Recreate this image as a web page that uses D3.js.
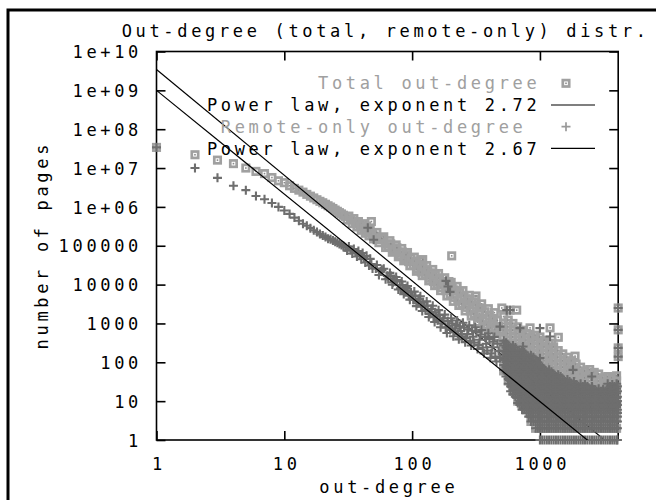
<!DOCTYPE html>
<html>
<head>
<meta charset="utf-8">
<script src="https://d3js.org/d3.v7.min.js"></script>
<style>
  body { margin: 0; background: white; }
  svg text { font-family: "DejaVu Sans Mono", monospace; font-size: 17px; letter-spacing: 3.66px; white-space: pre; }
</style>
</head>
<body>
<div id="chart"></div>
<script>
// ---- data: [out-degree, number of pages] ----
const totalHead = [[1,3.4e7],[2,2.2e7],[3,1.6e7],[4,1.3e7],[5,1.0e7],[6,8.2e6],[7,7.2e6],[8,5.7e6],[9,4.7e6],[10,4.2e6]]
const totalBand = [[11,3.5e6],[12,3.0e6],[13,2.7e6],[14,2.4e6],[15,2.1e6],[16,1.89e6],[17,1.7e6],[18,1.53e6],[19,1.39e6],[20,1.28e6],
  [21,1.17e6],[22,1.07e6],[23,9.9e5],[24,9.1e5],[25,8.3e5],[26,7.7e5],[27,7.1e5],[28,6.6e5],[29,6.1e5],[30,5.7e5],
  [31,4.6e5],[32,5.8e5],[33,4.65e5],[34,3.7e5],[35,5.0e5],[36,3.9e5],[37,3.05e5],[38,4.2e5],[39,3.3e5],[40,2.5e5],
  [41,3.7e5],[42,2.8e5],[43,2.1e5],[44,3.2e5],[45,2.4e5],[46,1.8e5],[47,2.75e5],[48,4.2e5],[49,2.0e5],[50,1.5e5],
  [52,1.77e5],[53,2.2e5],[55,1.2e5],[57,1.44e5],[60,1.7e5],[62,9.0e4],[64,1.11e5],[67,1.35e5],[70,6.8e4],[73,8.3e4],
  [75,1.05e5],[78,5.2e4],[80,6.8e4],[83,8.5e4],[86,4.1e4],[89,5.2e4],[92,6.7e4],[96,3.05e4],[100,3.9e4],[104,5.1e4],
  [108,2.2e4],[112,3.0e4],[116,4.0e4],[120,1.7e4],[125,2.3e4],[130,3.1e4],[135,1.25e4],[140,1.73e4],[145,2.45e4],[150,9.4e3],
  [155,1.34e4],[161,1.93e4],[167,7.0e3],[173,1.02e4],[180,1.5e4],[187,5.1e3],[195,7.5e3],[202,1.14e4],[210,3.7e3],[217,5.8e3],
  [225,9.0e3],[232,2.9e3],[240,4.5e3],[250,7.0e3],[260,2.1e3],[270,3.3e3],[280,5.3e3],[290,1.55e3],[300,2.5e3],[312,4.2e3],
  [325,1.08e3],[337,1.83e3],[350,3.2e3],[365,770],[380,1.32e3],[395,2.4e3],[410,540],[425,1.02e3],[440,1.9e3],[457,450],[475,840],
  [58,1.55e5],[65,9.3e4],[68,1.12e5],[71,7.6e4],[76,8.9e4],[81,5.6e4],[84,6.9e4],[87,4.6e4],[90,5.9e4],[94,3.9e4],
  [98,4.8e4],[102,3.1e4],[106,4.0e4],[110,2.5e4],[114,3.4e4],[118,2.1e4],[122,2.9e4],[127,1.8e4],[132,2.4e4],[137,1.45e4],
  [142,2.0e4],[147,1.2e4],[152,1.75e4],[158,1.0e4],[164,1.45e4],[170,8.4e3],[176,1.2e4],[183,7.0e3],[190,1.0e4],[198,5.6e3],
  [206,8.5e3],[213,4.7e3],[221,7.2e3],[228,3.9e3],[236,6.2e3],[245,3.2e3],[255,5.2e3],[265,2.6e3],[275,4.3e3],[285,2.1e3],
  [295,3.6e3],[306,1.75e3],[318,3.0e3],[331,1.4e3],[343,2.5e3],[357,1.15e3],[372,2.0e3],[387,930],[402,1.6e3],[417,780],
  [432,1.35e3],[448,700],[466,1.2e3],[485,600]]
const totalOutliers = [[121,4.4e4],[204,5.5e4],[194,1.2e4],[316,5.1e3],[503,2.5e3],[584,2.2e3],[658,2.2e3],[837,770],[1200,770],
  [1057,340],[1237,310],[1393,440],[1237,128],[1883,144],[2186,47],[2543,52],[2125,24],[4096,2.5e3],[4096,684],[4096,235],[4096,140]]
// tail: [out-degree, counts seen in that column]
const totalTail = [
  [520,[60,90,135,200,300,450,670,1000,1500]],
  [565,[33,50,75,110,165,250,370,550,820,1220]],
  [615,[18,27,40,60,90,135,200,300,450,670,1000]],
  [670,[10,15,22,33,50,75,110,165,250,370,550,820]],
  [725,[8,12,18,27,40,60,90,135,200,300,450,670]],
  [785,[6,10,15,22,33,50,75,110,165,250,370,550]],
  [850,[3,5,8,12,18,27,40,60,90,135,200,300,450]],
  [925,[2,4,6,10,15,22,33,50,75,110,165,250,370,500]],
  [1000,[2,3,5,8,12,18,27,40,60,90,135,200,300,450]],
  [1085,[2,4,6,10,15,22,33,50,75,110,165,250,370]],
  [1180,[2,3,5,8,12,18,27,40,60,90,135,200,300]],
  [1280,[2,4,6,10,15,22,33,50,75,110,165,250]],
  [1390,[2,3,5,8,12,18,27,40,60,90,135,200]],
  [1510,[2,4,6,10,15,22,33,50,75,110,165]],
  [1640,[2,3,5,8,12,18,27,40,60,90,135]],
  [1770,[2,4,6,10,15,22,33,50,75,110]],
  [1920,[2,3,5,8,12,18,27,40,60,90]],
  [2080,[2,4,6,10,15,22,33,50,75]],
  [2250,[2,3,5,8,12,18,27,40,60]],
  [2450,[2,4,6,10,15,22,33,50,65]],
  [2660,[2,3,5,8,12,18,27,40,55]],
  [2880,[2,4,6,10,15,22,33,50]],
  [3130,[2,3,5,8,12,18,27,40]],
  [3390,[2,4,6,10,15,22,33,43]],
  [3680,[2,3,5,8,12,18,27,40]],
  [3980,[2,4,6,10,15,22,33,45]]]

const remoteHead = [[1,3.4e7],[2,1.0e7],[3,5.6e6],[4,3.5e6],[5,2.7e6],[6,1.9e6],[7,1.58e6],[8,1.26e6],[9,1.0e6],[10,8.1e5]]
const remoteBand = [[11,6.6e5],[12,5.3e5],[13,4.4e5],[14,3.7e5],[15,3.26e5],[16,2.84e5],[17,2.5e5],[18,2.25e5],[19,2.0e5],[20,1.83e5],
  [21,1.67e5],[22,1.52e5],[23,1.46e5],[24,1.37e5],[25,1.27e5],[26,1.19e5],[27,1.11e5],[28,1.04e5],[29,9.8e4],[30,9.2e4],
  [31,7.5e4],[32,9.5e4],[33,7.8e4],[34,6.3e4],[35,8.2e4],[36,6.7e4],[37,5.3e4],[38,7.3e4],[39,5.8e4],[40,4.5e4],
  [41,6.5e4],[42,5.0e4],[43,3.7e4],[44,5.5e4],[46,3.1e4],[47,4.6e4],[48,3.4e4],[49,2.6e4],[52,2.6e4],[53,3.2e4],
  [55,1.76e4],[57,2.2e4],[60,2.55e4],[62,1.37e4],[64,1.68e4],[67,2.0e4],[70,1.0e4],[73,1.24e4],[75,1.57e4],[78,7.5e3],
  [80,9.7e3],[83,1.2e4],[86,5.7e3],[89,7.1e3],[92,9.2e3],[96,4.1e3],[100,5.1e3],[104,6.6e3],[108,2.8e3],[112,3.7e3],
  [116,5.0e3],[120,2.1e3],[125,2.75e3],[130,3.7e3],[135,1.47e3],[140,2.0e3],[145,2.85e3],[150,1.09e3],[155,1.54e3],[161,2.2e3],
  [167,800],[173,1.15e3],[180,1.69e3],[187,570],[195,870],[202,1.36e3],[210,470],[217,740],[225,1.19e3],[232,390],
  [240,640],[250,1.04e3],[260,330],[270,530],[280,900],[290,270],[300,455],[312,800],[325,220],[337,380],
  [350,680],[365,170],[380,300],[395,560],[410,130],[425,245],[440,450],[457,105],[475,195],
  [58,2.4e4],[65,1.4e4],[68,1.7e4],[71,1.15e4],[76,1.3e4],[81,8.0e3],[84,9.8e3],[87,6.5e3],[90,8.1e3],[94,5.2e3],
  [98,6.4e3],[102,4.1e3],[106,5.2e3],[110,3.3e3],[114,4.3e3],[118,2.7e3],[122,3.5e3],[127,2.2e3],[132,2.9e3],[137,1.75e3],
  [142,2.35e3],[147,1.45e3],[152,1.95e3],[158,1.2e3],[164,1.65e3],[170,1.0e3],[176,1.35e3],[183,780],[190,1.15e3],[198,680],
  [206,1.0e3],[213,600],[221,920],[228,540],[236,840],[245,470],[255,780],[265,420],[275,700],[285,360],
  [295,650],[306,320],[318,600],[331,280],[343,520],[357,240],[372,450],[387,200],[402,400],[417,170],
  [432,340],[448,140],[466,300],[485,130]]
const remoteOutliers = [[45,2.9e5],[50,1.43e5],[184,1.25e4],[191,8.9e3],[198,6.5e3],[550,2.2e3],[584,2.2e3],[487,830],[698,757],
  [738,254],[1000,757],[1200,460],[1000,128],[1815,64],[2543,43],[3118,19],[4096,2.5e3],[4096,684],[4096,235],[4096,140]]
const remoteTail = [
  [520,[64,85,115,150,200,270,360]],
  [542,[43,57,76,100,135,180,240,320]],
  [565,[28,37,50,66,88,117,155,205,280]],
  [590,[18,24,32,43,57,76,100,135,180,240]],
  [615,[15,20,27,36,48,64,85,115,150,200,270]],
  [642,[13,18,24,32,43,57,76,100,135,180,240]],
  [670,[9,12,16,21,28,37,50,66,88,117,155,205]],
  [697,[8,10,13,18,24,32,43,57,76,100,135,180]],
  [725,[6,8,11,15,20,27,36,48,64,85,115,150,200]],
  [755,[6,8,10,13,18,24,32,43,57,76,100,135,180]],
  [785,[5,7,9,12,16,21,28,37,50,66,88,117,155]],
  [817,[4,5,6,8,10,13,18,24,32,43,57,76,100,135]],
  [850,[3,4,6,8,11,15,20,27,36,48,64,85,115,150]],
  [887,[3,4,5,6,8,10,13,18,24,32,43,57,76,100,135]],
  [925,[2,3,5,7,9,12,16,21,28,37,50,66,88,117]],
  [962,[2,3,4,5,6,8,10,13,18,24,32,43,57,76,100]],
  [1000,[1,2,3,4,6,8,11,15,20,27,36,48,64,85]],
  [1042,[1,2,3,4,5,6,8,10,13,18,24,32,43,57,76]],
  [1085,[1,2,3,5,7,9,12,16,21,28,37,50,66]],
  [1132,[1,2,3,4,5,6,8,10,13,18,24,32,43,57]],
  [1180,[1,2,3,4,6,8,11,15,20,27,36,48,64]],
  [1229,[1,2,3,4,5,6,8,10,13,18,24,32,43,57]],
  [1280,[1,2,3,5,7,9,12,16,21,28,37,50]],
  [1333,[1,2,3,4,5,6,8,10,13,18,24,32,43]],
  [1390,[1,2,3,4,6,8,11,15,20,27,36,48]],
  [1449,[1,2,3,4,5,6,8,10,13,18,24,32,43]],
  [1510,[1,2,3,5,7,9,12,16,21,28,37]],
  [1574,[1,2,3,4,5,6,8,10,13,18,24,32]],
  [1640,[1,2,3,4,6,8,11,15,20,27,36]],
  [1704,[1,2,3,4,5,6,8,10,13,18,24,32]],
  [1770,[1,2,3,5,7,9,12,16,21,28]],
  [1843,[1,2,3,4,5,6,8,10,13,18,24,32]],
  [1920,[1,2,3,4,6,8,11,15,20,27]],
  [2000,[1,2,3,4,5,6,8,10,13,18,24]],
  [2080,[1,2,3,5,7,9,12,16,21,28]],
  [2164,[1,2,3,4,5,6,8,10,13,18,24]],
  [2250,[1,2,3,4,6,8,11,15,20,27]],
  [2348,[1,2,3,4,5,6,8,10,13,18,24]],
  [2450,[1,2,3,5,7,9,12,16,21]],
  [2553,[1,2,3,4,5,6,8,10,13,18,24]],
  [2660,[1,2,3,4,6,8,11,15,20]],
  [2768,[1,2,3,4,5,6,8,10,13,18]],
  [2880,[1,2,3,5,7,9,12,16,21]],
  [3002,[1,2,3,4,5,6,8,10,13,18]],
  [3130,[1,2,3,4,6,8,11,15,20]],
  [3257,[1,2,3,4,5,6,8,10,13,18]],
  [3390,[1,2,3,5,7,9,12,16,21,28]],
  [3532,[1,2,3,4,5,6,8,10,13,18,24]],
  [3680,[1,2,3,4,6,8,11,15,20,27]],
  [3827,[1,2,3,4,5,6,8,10,13,18,24]],
  [3980,[1,2,3,5,7,9,12,16,21,28]],
  [4040,[1,2,3,4,5,6,8,10,13,18,24]]]

// power-law fits: pages = coef * degree^-exponent
const fitCoef = [3.43e9, 1.0e9]
const fitExponent = [2.72, 2.67]

const xTicks = [1, 10, 100, 1000]
const xTickLabels = ['1', '10', '100', '1000']
const yTicks = [1, 10, 100, 1000, 1e4, 1e5, 1e6, 1e7, 1e8, 1e9, 1e10]
const yTickLabels = ['1', '10', '100', '1000', '10000', '100000', '1e+06', '1e+07', '1e+08', '1e+09', '1e+10']
const keyLabels = ['Total out-degree', 'Power law, exponent 2.72', 'Remote-only out-degree ', 'Power law, exponent 2.67']

// ---- drawing ----
const width = 656
const height = 500
const plotLeft = 156.5, plotRight = 618.2, plotTop = 51.5, plotBottom = 440
const LS = 3.66
const lightGray = '#a0a0a0'
const darkGray = '#6e6e6e'

const svg = d3.select('#chart').append('svg')
  .attr('width', width)
  .attr('height', height)

const x = d3.scaleLog().domain([1, 4096]).range([plotLeft, plotRight])
const y = d3.scaleLog().domain([1, 1e10]).range([plotBottom, plotTop])

// outer frame (only left and top edges fall inside the picture)
svg.append('rect')
  .attr('x', 8).attr('y', 10).attr('width', 700).attr('height', 600)
  .attr('fill', 'none').attr('stroke', 'black').attr('stroke-width', 3)

svg.append('text')
  .attr('x', 121.7).attr('y', 31).attr('dy', '0.36em')
  .text('Out-degree (total, remote-only) distr.')

// axes, ticks inward and mirrored
function styleAxis(g) {
  g.select('.domain').remove()
  g.selectAll('.tick line').attr('stroke-width', 1.6)
  g.attr('font-family', null).attr('font-size', null)
}
svg.append('g').attr('transform', `translate(0,${plotBottom})`)
  .call(d3.axisBottom(x).tickValues(xTicks).tickFormat((d, i) => xTickLabels[i]).tickSize(-9).tickPadding(0))
  .call(styleAxis)
  .selectAll('text').attr('y', 23.5).attr('dy', '0.36em').attr('dx', LS / 2)
svg.append('g').attr('transform', `translate(0,${plotTop})`)
  .call(d3.axisTop(x).tickValues(xTicks).tickFormat('').tickSize(-9))
  .call(styleAxis)
svg.append('g').attr('transform', `translate(${plotLeft},0)`)
  .call(d3.axisLeft(y).tickValues(yTicks).tickFormat((d, i) => yTickLabels[i]).tickSize(-9).tickPadding(0))
  .call(styleAxis)
  .selectAll('text').attr('x', -(plotLeft - 138.3 - LS)).attr('dy', '0.36em')
svg.append('g').attr('transform', `translate(${plotRight},0)`)
  .call(d3.axisRight(y).tickValues(yTicks).tickFormat('').tickSize(-9))
  .call(styleAxis)

svg.append('rect')
  .attr('x', plotLeft).attr('y', plotTop).attr('width', plotRight - plotLeft).attr('height', plotBottom - plotTop)
  .attr('fill', 'none').attr('stroke', 'black').attr('stroke-width', 1.6)

svg.append('text')
  .attr('x', 387 + LS / 2).attr('y', 486.5).attr('dy', '0.36em')
  .attr('text-anchor', 'middle')
  .text('out-degree')
svg.append('text')
  .attr('transform', 'translate(41.7,247) rotate(-90)')
  .attr('x', LS / 2).attr('dy', '0.36em')
  .attr('text-anchor', 'middle')
  .text('number of pages')

svg.append('clipPath').attr('id', 'plot-clip')
  .append('rect').attr('x', plotLeft).attr('y', plotTop).attr('width', plotRight - plotLeft).attr('height', plotBottom - plotTop)

function flatTail(tail) {
  return tail.flatMap(([d, counts]) => counts.map(c => [d, c]))
}
const totalPoints = totalHead.concat(totalBand, totalOutliers, flatTail(totalTail))
const remotePoints = remoteHead.concat(remoteBand, remoteOutliers, flatTail(remoteTail))

function drawSquare(sel) {
  sel.append('rect')
    .attr('x', -3.2).attr('y', -3.2).attr('width', 6.4).attr('height', 6.4)
    .attr('fill', 'none').attr('stroke', lightGray).attr('stroke-width', 2.7)
  sel.append('rect')
    .attr('x', -0.8).attr('y', -0.8).attr('width', 1.6).attr('height', 1.6)
    .attr('fill', '#8a8a8a')
}
function drawSquares(g, data) {
  g.selectAll('g').data(data).enter().append('g')
    .attr('transform', d => `translate(${x(d[0])},${y(d[1])})`)
    .call(drawSquare)
}
function drawPluses(g, data, color) {
  g.selectAll('path').data(data).enter().append('path')
    .attr('d', 'M-4.5,0H4.5M0,-4.5V4.5')
    .attr('transform', d => `translate(${x(d[0])},${y(d[1])})`)
    .attr('stroke', color).attr('stroke-width', 2.1).attr('fill', 'none')
}
function drawFit(i) {
  svg.append('line')
    .attr('clip-path', 'url(#plot-clip)')
    .attr('x1', x(1)).attr('y1', y(fitCoef[i]))
    .attr('x2', x(4096)).attr('y2', y(fitCoef[i] * Math.pow(4096, -fitExponent[i])))
    .attr('stroke', 'black').attr('stroke-width', 1.2)
}

// gnuplot order: total points, its fit, remote points, its fit
drawSquares(svg.append('g'), totalPoints)
drawFit(0)
drawPluses(svg.append('g'), remotePoints, darkGray)
drawFit(1)

// key
const keyY = i => 83.3 + i * 21.7
const key = svg.append('g')
key.selectAll('text').data(keyLabels).enter().append('text')
  .attr('x', 536.7 + LS).attr('y', (d, i) => keyY(i)).attr('dy', '0.36em')
  .attr('text-anchor', 'end')
  .attr('fill', (d, i) => i % 2 === 0 ? lightGray : 'black')
  .text(d => d)
key.append('g').attr('transform', `translate(566,${keyY(0)})`).call(drawSquare)
key.append('path').attr('d', 'M-4.5,0H4.5M0,-4.5V4.5')
  .attr('transform', `translate(566,${keyY(2)})`)
  .attr('stroke', '#999').attr('stroke-width', 1.7)
;[1, 3].forEach(i => {
  key.append('line').attr('x1', 551).attr('x2', 595).attr('y1', keyY(i)).attr('y2', keyY(i))
    .attr('stroke', 'black').attr('stroke-width', 1.2)
})
</script>
</body>
</html>
